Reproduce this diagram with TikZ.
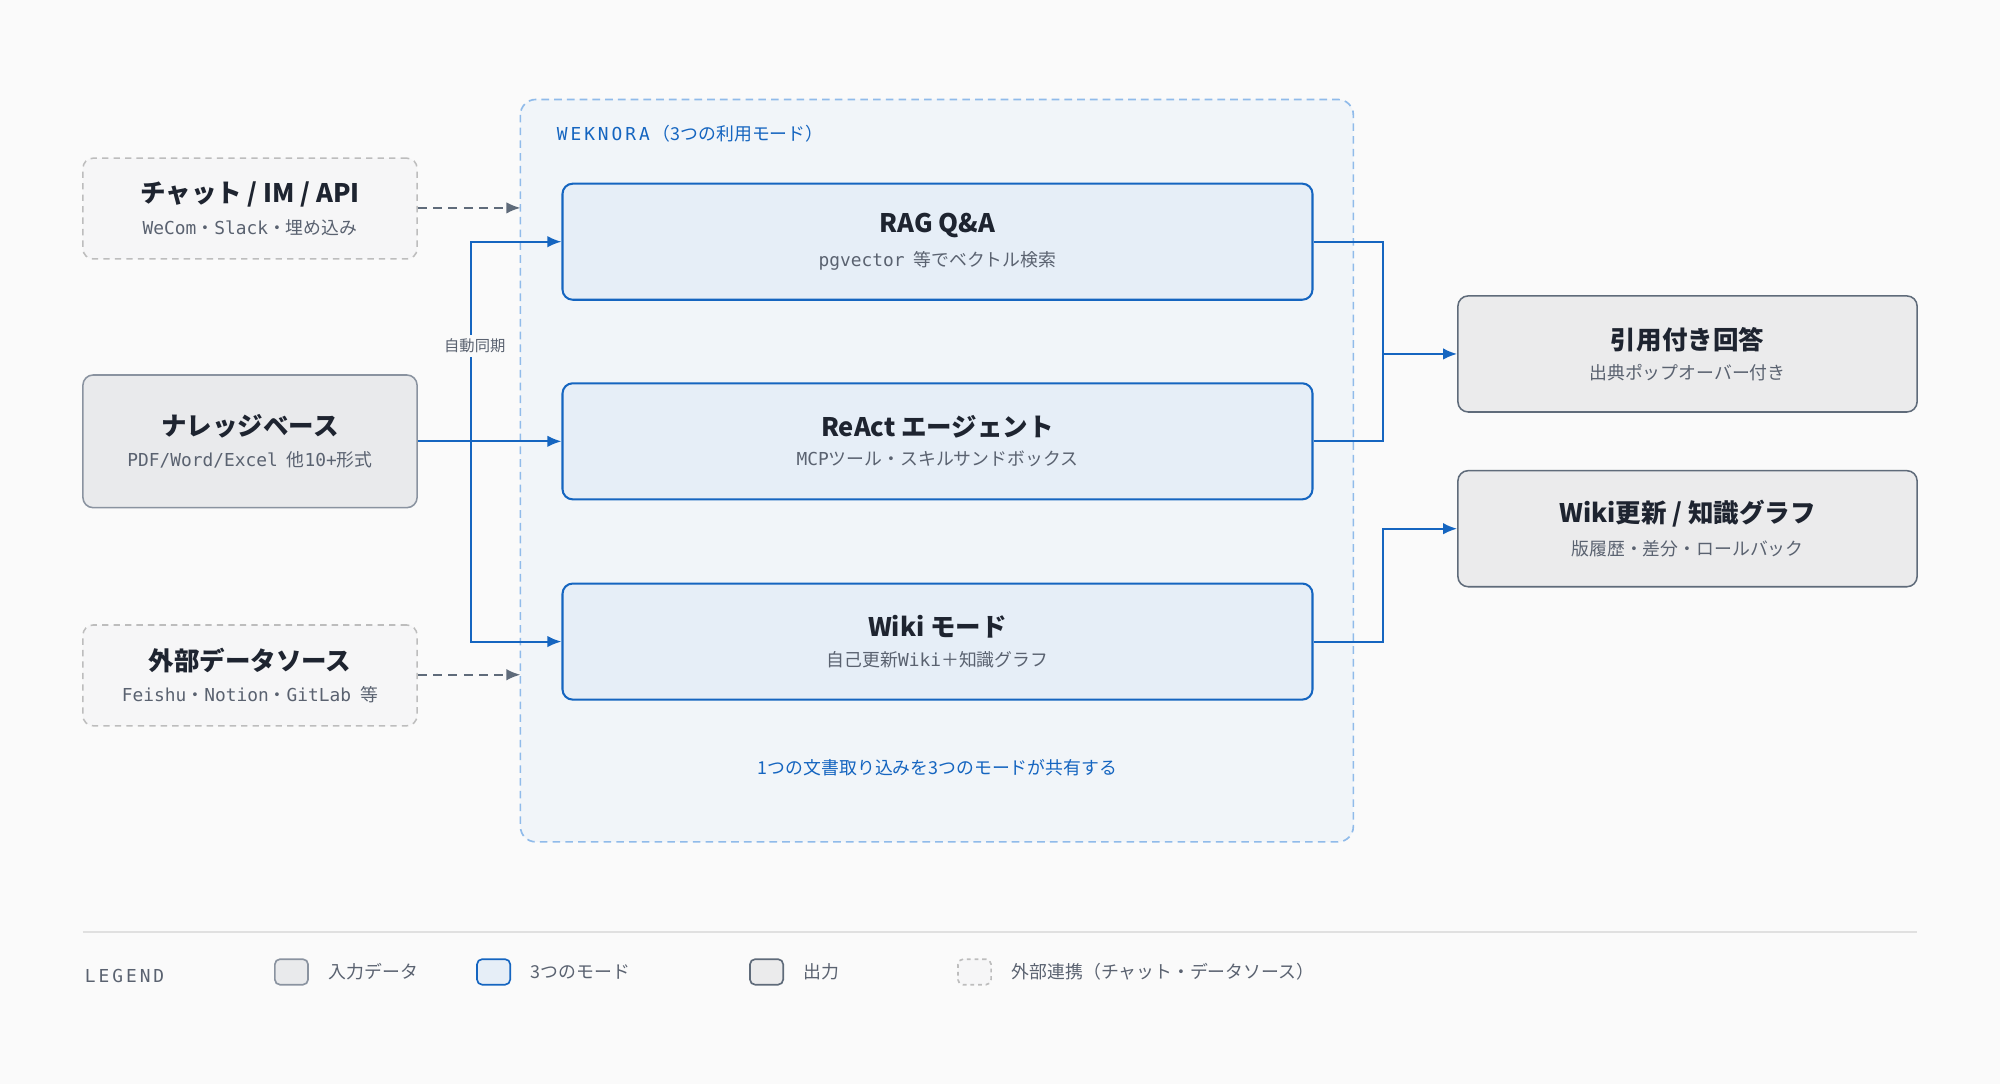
\documentclass[tikz,border=0pt]{standalone}
\usepackage{fontspec}
\setmainfont{Noto Sans CJK JP}
\newfontfamily\monof{DejaVu Sans Mono}
\usetikzlibrary{arrows.meta, positioning}
\definecolor{bgc}{HTML}{FAFAFA}
\definecolor{wkfill}{HTML}{F1F5F9}
\definecolor{wkline}{HTML}{90BBEA}
\definecolor{modefill}{HTML}{E6EEF7}
\definecolor{blu}{HTML}{1565C0}
\definecolor{infill}{HTML}{E9EAEC}
\definecolor{inline}{HTML}{8A93A0}
\definecolor{outfill}{HTML}{EBEBEC}
\definecolor{outline}{HTML}{5F6B7A}
\definecolor{extfill}{HTML}{F6F6F7}
\definecolor{extline}{HTML}{BDBDBD}
\definecolor{ink}{HTML}{1E2430}
\definecolor{sub}{HTML}{5A6270}
\newcommand{\ttl}[1]{{\fontsize{20}{24}\selectfont\bfseries #1}}
\newcommand{\sbt}[1]{{\fontsize{14}{18}\selectfont\color{sub}#1}}
\newcommand{\gap}{\hspace{7pt}}
\begin{document}
\begin{tikzpicture}[x=1pt, y=-1pt, >={Latex[length=11pt,width=9pt]},
    box/.style = {rounded corners=8pt, line width=1.2pt, align=center,
                  text=ink, inner sep=0pt},
    mode/.style = {box, draw=blu, fill=modefill, line width=1.6pt,
                   minimum width=588pt, minimum height=91pt},
    inp/.style = {box, draw=inline, fill=infill, minimum width=262pt, minimum height=104pt},
    ext/.style = {box, draw=extline, fill=extfill, dashed, dash pattern=on 5pt off 4pt,
                  minimum width=262pt, minimum height=79pt},
    outp/.style = {box, draw=outline, fill=outfill, minimum width=360pt, minimum height=91pt},
    flow/.style = {->, draw=blu, line width=1.6pt},
    extflow/.style = {->, draw=outline, line width=1.4pt, dash pattern=on 7pt off 5pt},
    swatch/.style = {rounded corners=4pt, line width=1.3pt, minimum width=26pt,
                     minimum height=20pt, inner sep=0pt},
    lbl/.style = {font=\fontsize{14}{16}\selectfont, text=sub, anchor=west}
  ]
  % canvas
  \fill[bgc] (0,0) rectangle (1568,850);
  \useasboundingbox (0,0) rectangle (1568,850);

  % WeKnora container
  \draw[wkline, fill=wkfill, line width=1.3pt, dash pattern=on 6pt off 4pt,
        rounded corners=12pt] (408,78) rectangle (1061,660);
  \node[anchor=west, text=blu, font=\monof\fontsize{14}{16}\selectfont] (wktitle)
    at (433,105) {W\,E\,K\,N\,O\,R\,A\,{\rmfamily（3つの利用モード）}};

  % three modes
  \node[mode] (rag)   at (735,189.5) {\ttl{RAG Q\&A}\\[9pt]\sbt{{\monof pgvector}\gap 等でベクトル検索}};
  \node[mode] (react) at (735,346)   {\ttl{ReAct エージェント}\\[9pt]\sbt{{\monof MCP}ツール・スキルサンドボックス}};
  \node[mode] (wiki)  at (735,503)   {\ttl{Wiki モード}\\[9pt]\sbt{自己更新{\monof Wiki}＋知識グラフ}};
  \node[text=blu, font=\fontsize{14}{16}\selectfont] (share) at (735,602)
    {1つの文書取り込みを3つのモードが共有する};

  % inputs
  \node[ext] (chat) at (196,163.5) {\ttl{チャット / IM / API}\\[9pt]\sbt{{\monof WeCom}・{\monof Slack}・埋め込み}};
  \node[inp] (kb)   at (196,346)   {\ttl{ナレッジベース}\\[9pt]\sbt{{\monof PDF/Word/Excel}\gap 他{\monof 10+}形式}};
  \node[ext] (src)  at (196,529.5) {\ttl{外部データソース}\\[9pt]\sbt{{\monof Feishu}・{\monof Notion}・{\monof GitLab}\gap 等}};

  % outputs
  \node[outp] (cite) at (1323,277.5) {\ttl{引用付き回答}\\[9pt]\sbt{出典ポップオーバー付き}};
  \node[outp] (graph) at (1323,414.5) {\ttl{Wiki更新 / 知識グラフ}\\[9pt]\sbt{版履歴・差分・ロールバック}};

  % connectors in
  \coordinate (chatin) at (408,163);
  \coordinate (srcin) at (408,529);
  \coordinate (fork) at (369,346);
  \draw[extflow] (chat.east |- chatin) -- (chatin);
  \draw[extflow] (src.east |- srcin) -- (srcin);
  \draw[flow] (kb.east) -- (react.west);
  \draw[flow] (fork) |- (rag.west);
  \draw[flow] (fork) |- (wiki.west);
  \node[fill=bgc, text=sub, font=\fontsize{12}{14}\selectfont, inner xsep=6pt,
        inner ysep=3pt, anchor=west] (sync) at (342,271) {自動同期};

  % connectors out
  \coordinate (joinA) at (1084,277.5);
  \coordinate (joinB) at (1084,414.5);
  \draw[blu, line width=1.6pt] (rag.east) -| (joinA);
  \draw[blu, line width=1.6pt] (react.east) -| (joinA);
  \draw[flow] (joinA) -- (cite.west);
  \draw[flow] (wiki.east) -| (joinB) -- (graph.west);

  % legend
  \draw[black!12, line width=1.5pt] (65,731) -- (1503,731);
  \node[anchor=west, text=sub, font=\monof\fontsize{14}{16}\selectfont] (legend) at (63,765) {L\,E\,G\,E\,N\,D};
  \node[swatch, draw=inline, fill=infill] (kin) at (228.5,762) {};
  \node[lbl, right=12pt of kin] (kinl) {入力データ};
  \node[swatch, draw=blu, fill=modefill] (kmode) at (387,762) {};
  \node[lbl, right=12pt of kmode] (kmodel) {3つのモード};
  \node[swatch, draw=outline, fill=outfill] (kout) at (601,762) {};
  \node[lbl, right=12pt of kout] (koutl) {出力};
  \node[swatch, draw=extline, fill=extfill, dashed] (kext) at (764,762) {};
  \node[lbl, right=12pt of kext] (kextl) {外部連携（チャット・データソース）};
\end{tikzpicture}
\end{document}
